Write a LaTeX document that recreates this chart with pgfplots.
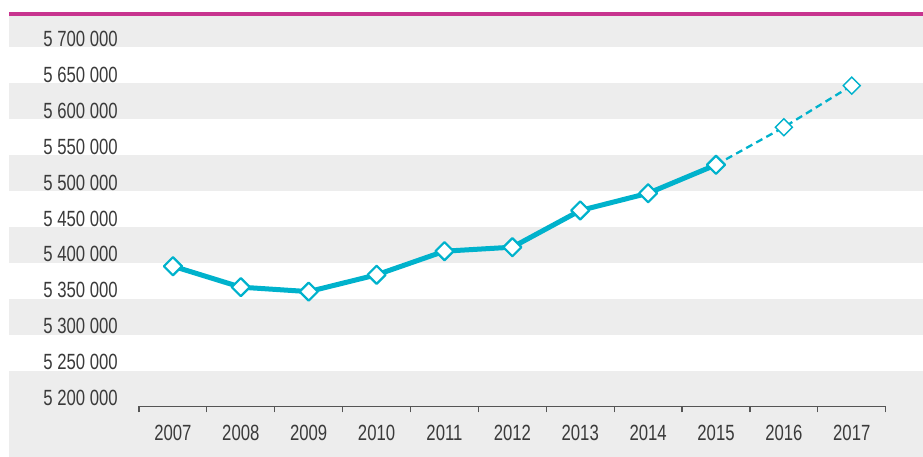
\documentclass[border=0pt]{standalone}
\usepackage{pgfplots}
\pgfplotsset{compat=1.18}
\usepackage{fontspec}
\setmainfont{Liberation Sans}[FakeStretch=0.76]
\definecolor{teal1}{HTML}{00B2CC}
\definecolor{mag}{HTML}{C8348F}
\definecolor{band}{HTML}{EDEDED}
\definecolor{txt}{HTML}{3A3A3A}
\definecolor{axisc}{HTML}{555555}
\begin{document}
\begin{tikzpicture}[x=1pt,y=1pt]
\path[use as bounding box] (0,0) rectangle (923,457);
\fill[band] (9,0.3) rectangle (923,86.4);
\fill[band] (9,122.3) rectangle (923,158.2);
\fill[band] (9,194.1) rectangle (923,230);
\fill[band] (9,265.9) rectangle (923,301.8);
\fill[band] (9,337.7) rectangle (923,373.6);
\fill[band] (9,409.5) rectangle (923,440.5);
\fill[mag] (9,440.5) rectangle (923,445.3);
\begin{axis}[
  at={(139pt,50.5pt)}, anchor=south west,
  width=746.7pt, height=359pt, scale only axis,
  xmin=2006.5, xmax=2017.5, ymin=5200000, ymax=5700000,
  clip=false, scaled y ticks=false, scaled x ticks=false,
  axis x line*=bottom, axis y line*=left,
  y axis line style={draw=none},
  x axis line style={draw=axisc, line width=1.2pt},
  xtick={2007,2008,2009,2010,2011,2012,2013,2014,2015,2016,2017},
  xticklabels={2007,2008,2009,2010,2011,2012,2013,2014,2015,2016,2017},
  minor xtick={2006.5,2007.5,2008.5,2009.5,2010.5,2011.5,2012.5,2013.5,2014.5,2015.5,2016.5,2017.5},
  major tick length=0pt, minor tick length=6pt, tick align=outside,
  minor tick style={draw=axisc, line width=1.2pt},
  ytick={5200000,5250000,5300000,5350000,5400000,5450000,5500000,5550000,5600000,5650000,5700000},
  yticklabels={5 200 000,5 250 000,5 300 000,5 350 000,5 400 000,5 450 000,5 500 000,5 550 000,5 600 000,5 650 000,5 700 000},
  /pgf/number format/assume math mode=true,
  xticklabel style={anchor=center, yshift=-26.5pt, font=\fontsize{22}{22}\selectfont, text=txt, inner sep=0pt},
  yticklabel style={anchor=east, xshift=-21pt, yshift=8.5pt, font=\fontsize{22}{22}\selectfont, text=txt, inner sep=0pt},
]
\addplot[teal1, line width=2.3pt, dash pattern=on 7pt off 4.5pt,
  mark=square*, mark indices={2,3},
  mark options={solid, fill=white, draw=teal1, line width=1.4pt, rotate=45, mark size=6pt}]
  coordinates {(2015,5536600)(2016,5589000)(2017,5647000)};
\addplot[teal1, line width=5pt, line join=round,
  mark=square*,
  mark options={solid, fill=white, draw=teal1, line width=2.2pt, rotate=45, mark size=6.4pt}]
  coordinates {(2007,5395400)(2008,5366200)(2009,5360000)(2010,5383400)(2011,5416300)(2012,5421900)(2013,5473000)(2014,5497000)(2015,5536600)};
\end{axis}
\end{tikzpicture}
\end{document}
